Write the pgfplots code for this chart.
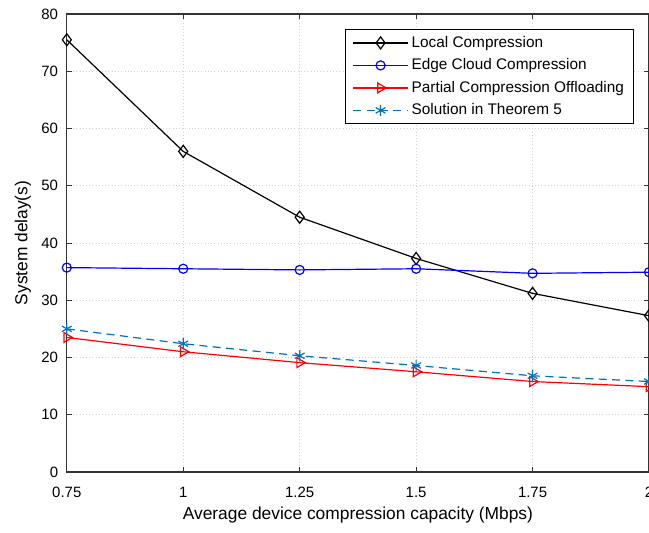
\documentclass[border=0pt]{standalone}
\usepackage{pgfplots}
\pgfplotsset{compat=1.18}
\usepackage{fontspec}
\setmainfont{Liberation Sans}
\definecolor{mblue}{rgb}{0,0.447,0.741}
\begin{document}
\begin{tikzpicture}[trim axis right]
\begin{axis}[
  width=435.75pt, height=342.75pt, scale only axis,
  xmin=0.75, xmax=2, ymin=0, ymax=80,
  xtick={0.75,1,1.25,1.5,1.75,2},
  xticklabels={0.75,1,1.25,1.5,1.75,2},
  ytick={0,10,...,80},
  tick align=inside, tick pos=both,
  major tick length=4pt,
  grid=major,
  grid style={dotted, gray!35, line width=0.6pt},
  axis line style={line width=0.8pt, black!80},
  every tick/.style={black!80, line width=0.6pt},
  tick label style={font=\fontsize{11.2}{13}\selectfont},
  xticklabel style={yshift=-8pt},
  yticklabel style={xshift=-3pt},
  label style={font=\fontsize{13}{15}\selectfont},
  /pgf/number format/assume math mode=true,
  xlabel={Average device compression capacity (Mbps)},
  ylabel={System delay(s)},
  xlabel style={yshift=0pt},
  ylabel style={yshift=1pt},
  legend style={at={(0.974,0.967)}, anchor=north east, font=\fontsize{11.5}{13.5}\selectfont,
    draw=black, line width=0.8pt, row sep=3pt, inner xsep=5pt, inner ysep=3pt, cells={anchor=west}},
  legend image code/.code={\draw[mark repeat=2,mark phase=2] plot coordinates {(0cm,0cm) (0.72cm,0cm) (1.45cm,0cm)};},
]
\addplot[black, line width=0.9pt, mark=diamond, mark size=4.5pt, mark options={solid, line width=0.9pt}]
  coordinates {(0.75,75.5) (1,56.0) (1.25,44.5) (1.5,37.3) (1.75,31.2) (2,27.3)};
\addlegendentry{Local Compression}
\addplot[blue, line width=0.9pt, mark=o, mark size=3.4pt, mark options={solid, line width=0.9pt}]
  coordinates {(0.75,35.7) (1,35.5) (1.25,35.3) (1.5,35.5) (1.75,34.7) (2,34.9)};
\addlegendentry{Edge Cloud Compression}
\addplot[red, line width=0.9pt, mark=triangle, mark size=4.2pt, mark options={solid, rotate=-90, line width=0.9pt}]
  coordinates {(0.75,23.5) (1,21.0) (1.25,19.1) (1.5,17.5) (1.75,15.8) (2,14.9)};
\addlegendentry{Partial Compression Offloading}
\addplot[mblue, line width=0.9pt, dash pattern=on 6pt off 4pt, mark=asterisk, mark size=4.2pt, mark options={solid, line width=0.9pt}]
  coordinates {(0.75,25.0) (1,22.4) (1.25,20.3) (1.5,18.6) (1.75,16.8) (2,15.8)};
\addlegendentry{Solution in Theorem 5}
\end{axis}
\path (current axis.south west) ++(-50pt,-45pt);
\path (current axis.north west) ++(-50pt,10.5pt);
\end{tikzpicture}
\end{document}
